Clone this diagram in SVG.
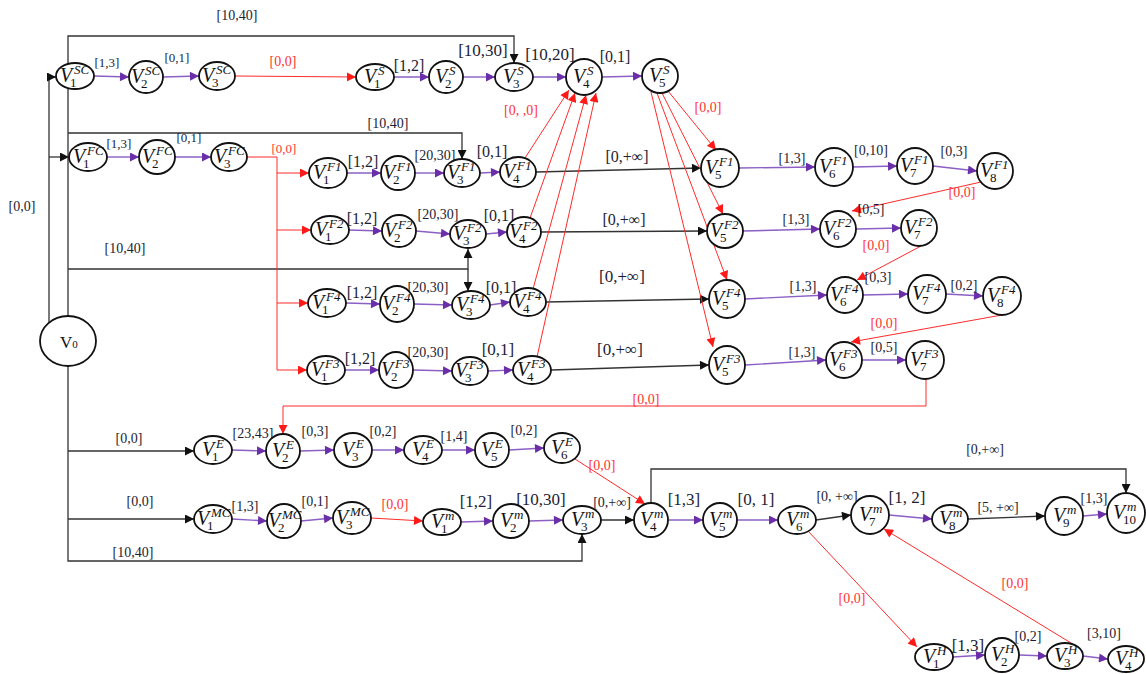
<svg xmlns="http://www.w3.org/2000/svg" width="1146" height="674" viewBox="0 0 1146 674">
<style>
.nd{fill:#fff;stroke:#111;stroke-width:1.8}
.nl{font-family:"Liberation Serif",serif;font-size:20px;font-style:italic;fill:#111}
.sp{font-size:13px}
.sb{font-size:13px;font-style:normal}
.lk{stroke:#333;stroke-width:1.3;fill:none}
.lp{stroke:#8b5fc4;stroke-width:1.4;fill:none}
.lr{stroke:#ff2b2b;stroke-width:1;fill:none}
.t{font-family:"Liberation Serif",serif;fill:#1d1d33;text-anchor:middle;font-size:14px}
.b{font-size:17px}
.r{fill:#ff3333}
</style>
<defs>
<marker id="mk" markerUnits="userSpaceOnUse" viewBox="0 0 10 10" refX="10" refY="5" markerWidth="10" markerHeight="9" orient="auto"><path d="M0,0L10,5L0,10z" fill="#111"/></marker>
<marker id="mp" markerUnits="userSpaceOnUse" viewBox="0 0 10 10" refX="10" refY="5" markerWidth="10" markerHeight="9" orient="auto"><path d="M0,0L10,5L0,10z" fill="#6a2fa8"/></marker>
<marker id="mr" markerUnits="userSpaceOnUse" viewBox="0 0 10 10" refX="10" refY="5" markerWidth="10" markerHeight="9" orient="auto"><path d="M0,0L10,5L0,10z" fill="#ff1a1a"/></marker>
</defs>
<rect width="1146" height="674" fill="#fff"/>
<g id="connectors">
<g marker-end="url(#mk)" class="lk">
<path d="M49,323V77H56"/>
<path d="M49,157H69"/>
<path d="M68,316V36H514V63"/>
<path d="M68,133H462V159"/>
<path d="M68,269H468V249"/>
<path d="M468,269V291"/>
<path d="M68,366V561H582V534"/>
<path d="M68,451H194"/>
<path d="M68,519H194"/>
<path d="M536,172L701,168"/>
<path d="M541,232L707,231"/>
<path d="M546,302L709,299"/>
<path d="M551,370L709,365"/>
<path d="M601,520H634"/>
<path d="M816,520L851,515"/>
<path d="M968,519L1045,516"/>
<path d="M651,503V469H1126V493"/>
</g>
<g marker-end="url(#mp)" class="lp">
<path d="M94,76L129,77"/>
<path d="M163,77L199,76"/>
<path d="M394,77L429,77"/>
<path d="M463,77L495,77"/>
<path d="M533,77L566,77"/>
<path d="M602,77L642,76"/>
<path d="M107,157L139,157"/>
<path d="M175,157L211,157"/>
<path d="M347,173L381,173"/>
<path d="M415,173L444,173"/>
<path d="M480,173L500,172"/>
<path d="M349,230L382,231"/>
<path d="M416,231L450,234"/>
<path d="M486,234L507,232"/>
<path d="M346,303L380,304"/>
<path d="M414,304L452,305"/>
<path d="M490,305L510,302"/>
<path d="M345,370L379,370"/>
<path d="M413,370L452,371"/>
<path d="M488,371L513,370"/>
<path d="M739,168L815,167"/>
<path d="M853,167L897,166"/>
<path d="M933,166L977,171"/>
<path d="M743,231L820,229"/>
<path d="M856,229L901,228"/>
<path d="M745,299L827,295"/>
<path d="M863,295L908,294"/>
<path d="M946,294L983,296"/>
<path d="M745,365L826,360"/>
<path d="M862,360L906,360"/>
<path d="M232,450L266,451"/>
<path d="M300,451L334,450"/>
<path d="M372,450L404,450"/>
<path d="M442,450L475,450"/>
<path d="M509,450L544,448"/>
<path d="M232,519L267,521"/>
<path d="M301,521L333,518"/>
<path d="M461,522L493,521"/>
<path d="M529,521L563,520"/>
<path d="M668,520L703,520"/>
<path d="M737,520L778,520"/>
<path d="M889,515L932,519"/>
<path d="M1083,516L1107,514"/>
<path d="M953,657L985,655"/>
<path d="M1019,655L1047,656"/>
<path d="M1083,656L1108,659"/>
</g>
<g marker-end="url(#mr)" class="lr">
<path d="M235,76L356,77"/>
<path d="M247,157H277V370H307"/>
<path d="M277,173H309"/>
<path d="M277,230H311"/>
<path d="M277,303H308"/>
<path d="M525,158L569,90"/>
<path d="M530,218L575,93"/>
<path d="M533,289L586,95"/>
<path d="M537,357L596,93"/>
<path d="M668,91L716,150"/>
<path d="M662,93L723,214"/>
<path d="M657,93L727,280"/>
<path d="M651,92L713,347"/>
<path d="M981,182L852,211"/>
<path d="M921,246L857,280"/>
<path d="M1002,315L851,342"/>
<path d="M926,379V406H283V434"/>
<path d="M575,459L645,504"/>
<path d="M371,518L423,521"/>
<path d="M808,531L917,647"/>
<path d="M1071,643L884,529"/>
</g>
</g>
<g id="labels">
<text class="t" x="237" y="20">[10,40]</text>
<text class="t" x="107" y="67" style="font-size:13px">[1,3]</text>
<text class="t" x="177" y="62" style="font-size:13px">[0,1]</text>
<text class="t r" x="283" y="66">[0,0]</text>
<text class="t" x="409" y="71" style="font-size:16px">[1,2]</text>
<text class="t b" x="483" y="56">[10,30]</text>
<text class="t b" x="550" y="60">[10,20]</text>
<text class="t" x="615" y="62" style="font-size:16px">[0,1]</text>
<text class="t r" x="521" y="115">[0, ,0]</text>
<text class="t r" x="708" y="112">[0,0]</text>
<text class="t" x="119" y="148" style="font-size:13px">[1,3]</text>
<text class="t" x="189" y="142" style="font-size:13px">[0,1]</text>
<text class="t r" x="284" y="153" style="font-size:13px">[0,0]</text>
<text class="t" x="388" y="128">[10,40]</text>
<text class="t" x="363" y="167" style="font-size:16px">[1,2]</text>
<text class="t" x="435" y="160">[20,30]</text>
<text class="t" x="492" y="157" style="font-size:16px">[0,1]</text>
<text class="t" x="627" y="162" style="font-size:16px">[0,+∞]</text>
<text class="t" x="792" y="163">[1,3]</text>
<text class="t" x="871" y="155">[0,10]</text>
<text class="t" x="954" y="156">[0,3]</text>
<text class="t r" x="962" y="197">[0,0]</text>
<text class="t" x="871" y="214">[0,5]</text>
<text class="t" x="362" y="224" style="font-size:16px">[1,2]</text>
<text class="t" x="438" y="219">[20,30]</text>
<text class="t" x="499" y="221" style="font-size:16px">[0,1]</text>
<text class="t" x="624" y="225" style="font-size:16px">[0,+∞]</text>
<text class="t" x="796" y="224">[1,3]</text>
<text class="t r" x="876" y="250">[0,0]</text>
<text class="t" x="362" y="298" style="font-size:16px">[1,2]</text>
<text class="t" x="428" y="292">[20,30]</text>
<text class="t" x="501" y="293" style="font-size:16px">[0,1]</text>
<text class="t b" x="622" y="282">[0,+∞]</text>
<text class="t" x="803" y="291">[1,3]</text>
<text class="t" x="878" y="282">[0,3]</text>
<text class="t" x="964" y="290">[0,2]</text>
<text class="t r" x="884" y="328">[0,0]</text>
<text class="t" x="884" y="352">[0,5]</text>
<text class="t" x="360" y="364" style="font-size:16px">[1,2]</text>
<text class="t" x="428" y="357">[20,30]</text>
<text class="t b" x="498" y="355">[0,1]</text>
<text class="t b" x="620" y="355">[0,+∞]</text>
<text class="t" x="802" y="357">[1,3]</text>
<text class="t r" x="646" y="404">[0,0]</text>
<text class="t" x="22" y="211">[0,0]</text>
<text class="t" x="125" y="253">[10,40]</text>
<text class="t" x="129" y="443">[0,0]</text>
<text class="t" x="253" y="438">[23,43]</text>
<text class="t" x="315" y="436">[0,3]</text>
<text class="t" x="383" y="436">[0,2]</text>
<text class="t" x="454" y="441">[1,4]</text>
<text class="t" x="524" y="435">[0,2]</text>
<text class="t r" x="602" y="470">[0,0]</text>
<text class="t" x="140" y="506">[0,0]</text>
<text class="t" x="245" y="511">[1,3]</text>
<text class="t" x="133" y="557">[10,40]</text>
<text class="t" x="315" y="506">[0,1]</text>
<text class="t r" x="395" y="509">[0,0]</text>
<text class="t b" x="476" y="507">[1,2]</text>
<text class="t b" x="541" y="505">[10,30]</text>
<text class="t" x="612" y="507">[0,+∞]</text>
<text class="t b" x="684" y="505">[1,3]</text>
<text class="t b" x="756" y="505">[0, 1]</text>
<text class="t" x="837" y="501">[0, +∞]</text>
<text class="t" x="985" y="454">[0,+∞]</text>
<text class="t b" x="907" y="503">[1, 2]</text>
<text class="t" x="998" y="512">[5, +∞]</text>
<text class="t" x="1094" y="503">[1,3]</text>
<text class="t r" x="852" y="603">[0,0]</text>
<text class="t r" x="1015" y="588">[0,0]</text>
<text class="t b" x="968" y="651">[1,3]</text>
<text class="t" x="1028" y="641">[0,2]</text>
<text class="t" x="1104" y="638">[3,10]</text>
</g>
<g id="V0"><ellipse class="nd" cx="68" cy="341" rx="28" ry="25"/><text x="60" y="348" style="font-family:'Liberation Serif',serif;font-size:17px;fill:#111">V<tspan style="font-size:11px">0</tspan></text></g>
<g id="SC1"><ellipse class="nd" cx="75" cy="76" rx="19" ry="13"/><text class="nl"><tspan x="60" y="82">V</tspan><tspan class="sp" x="74" y="74">SC</tspan><tspan class="sb" x="70" y="87">1</tspan></text></g>
<g id="SC2"><ellipse class="nd" cx="146" cy="77" rx="17" ry="16"/><text class="nl"><tspan x="131" y="83">V</tspan><tspan class="sp" x="145" y="75">SC</tspan><tspan class="sb" x="141" y="88">2</tspan></text></g>
<g id="SC3"><ellipse class="nd" cx="217" cy="76" rx="18" ry="14"/><text class="nl"><tspan x="202" y="82">V</tspan><tspan class="sp" x="216" y="74">SC</tspan><tspan class="sb" x="212" y="87">3</tspan></text></g>
<g id="S1"><ellipse class="nd" cx="375" cy="77" rx="19" ry="13"/><text class="nl"><tspan x="364" y="83">V</tspan><tspan class="sp" x="378" y="75">S</tspan><tspan class="sb" x="374" y="88">1</tspan></text></g>
<g id="S2"><ellipse class="nd" cx="446" cy="77" rx="17" ry="16"/><text class="nl"><tspan x="435" y="83">V</tspan><tspan class="sp" x="449" y="75">S</tspan><tspan class="sb" x="445" y="88">2</tspan></text></g>
<g id="S3"><ellipse class="nd" cx="514" cy="77" rx="19" ry="14"/><text class="nl"><tspan x="503" y="83">V</tspan><tspan class="sp" x="517" y="75">S</tspan><tspan class="sb" x="513" y="88">3</tspan></text></g>
<g id="S4"><ellipse class="nd" cx="584" cy="77" rx="18" ry="18"/><text class="nl"><tspan x="573" y="83">V</tspan><tspan class="sp" x="587" y="75">S</tspan><tspan class="sb" x="583" y="88">4</tspan></text></g>
<g id="S5"><ellipse class="nd" cx="660" cy="76" rx="18" ry="17"/><text class="nl"><tspan x="649" y="82">V</tspan><tspan class="sp" x="663" y="74">S</tspan><tspan class="sb" x="659" y="87">5</tspan></text></g>
<g id="FC1"><ellipse class="nd" cx="88" cy="157" rx="19" ry="14"/><text class="nl"><tspan x="73" y="163">V</tspan><tspan class="sp" x="87" y="155">FC</tspan><tspan class="sb" x="83" y="168">1</tspan></text></g>
<g id="FC2"><ellipse class="nd" cx="157" cy="157" rx="18" ry="17"/><text class="nl"><tspan x="142" y="163">V</tspan><tspan class="sp" x="156" y="155">FC</tspan><tspan class="sb" x="152" y="168">2</tspan></text></g>
<g id="FC3"><ellipse class="nd" cx="229" cy="157" rx="18" ry="14"/><text class="nl"><tspan x="214" y="163">V</tspan><tspan class="sp" x="228" y="155">FC</tspan><tspan class="sb" x="224" y="168">3</tspan></text></g>
<g id="F1-1"><ellipse class="nd" cx="328" cy="173" rx="19" ry="15"/><text class="nl"><tspan x="313" y="179">V</tspan><tspan class="sp" x="327" y="171">F1</tspan><tspan class="sb" x="323" y="184">1</tspan></text></g>
<g id="F1-2"><ellipse class="nd" cx="398" cy="173" rx="17" ry="17"/><text class="nl"><tspan x="383" y="179">V</tspan><tspan class="sp" x="397" y="171">F1</tspan><tspan class="sb" x="393" y="184">2</tspan></text></g>
<g id="F1-3"><ellipse class="nd" cx="462" cy="173" rx="18" ry="14"/><text class="nl"><tspan x="447" y="179">V</tspan><tspan class="sp" x="461" y="171">F1</tspan><tspan class="sb" x="457" y="184">3</tspan></text></g>
<g id="F1-4"><ellipse class="nd" cx="518" cy="172" rx="18" ry="15"/><text class="nl"><tspan x="503" y="178">V</tspan><tspan class="sp" x="517" y="170">F1</tspan><tspan class="sb" x="513" y="183">4</tspan></text></g>
<g id="F1-5"><ellipse class="nd" cx="720" cy="168" rx="19" ry="19"/><text class="nl"><tspan x="705" y="174">V</tspan><tspan class="sp" x="719" y="166">F1</tspan><tspan class="sb" x="715" y="179">5</tspan></text></g>
<g id="F1-6"><ellipse class="nd" cx="834" cy="167" rx="19" ry="19"/><text class="nl"><tspan x="819" y="173">V</tspan><tspan class="sp" x="833" y="165">F1</tspan><tspan class="sb" x="829" y="178">6</tspan></text></g>
<g id="F1-7"><ellipse class="nd" cx="915" cy="166" rx="18" ry="18"/><text class="nl"><tspan x="900" y="172">V</tspan><tspan class="sp" x="914" y="164">F1</tspan><tspan class="sb" x="910" y="177">7</tspan></text></g>
<g id="F1-8"><ellipse class="nd" cx="995" cy="171" rx="18" ry="18"/><text class="nl"><tspan x="980" y="177">V</tspan><tspan class="sp" x="994" y="169">F1</tspan><tspan class="sb" x="990" y="182">8</tspan></text></g>
<g id="F2-1"><ellipse class="nd" cx="330" cy="230" rx="19" ry="14"/><text class="nl"><tspan x="315" y="236">V</tspan><tspan class="sp" x="329" y="228">F2</tspan><tspan class="sb" x="325" y="241">1</tspan></text></g>
<g id="F2-2"><ellipse class="nd" cx="399" cy="231" rx="17" ry="16"/><text class="nl"><tspan x="384" y="237">V</tspan><tspan class="sp" x="398" y="229">F2</tspan><tspan class="sb" x="394" y="242">2</tspan></text></g>
<g id="F2-3"><ellipse class="nd" cx="468" cy="234" rx="18" ry="14"/><text class="nl"><tspan x="453" y="240">V</tspan><tspan class="sp" x="467" y="232">F2</tspan><tspan class="sb" x="463" y="245">3</tspan></text></g>
<g id="F2-4"><ellipse class="nd" cx="524" cy="232" rx="17" ry="15"/><text class="nl"><tspan x="509" y="238">V</tspan><tspan class="sp" x="523" y="230">F2</tspan><tspan class="sb" x="519" y="243">4</tspan></text></g>
<g id="F2-5"><ellipse class="nd" cx="725" cy="231" rx="18" ry="17"/><text class="nl"><tspan x="710" y="237">V</tspan><tspan class="sp" x="724" y="229">F2</tspan><tspan class="sb" x="720" y="242">5</tspan></text></g>
<g id="F2-6"><ellipse class="nd" cx="838" cy="229" rx="18" ry="18"/><text class="nl"><tspan x="823" y="235">V</tspan><tspan class="sp" x="837" y="227">F2</tspan><tspan class="sb" x="833" y="240">6</tspan></text></g>
<g id="F2-7"><ellipse class="nd" cx="919" cy="228" rx="18" ry="18"/><text class="nl"><tspan x="904" y="234">V</tspan><tspan class="sp" x="918" y="226">F2</tspan><tspan class="sb" x="914" y="239">7</tspan></text></g>
<g id="F4-1"><ellipse class="nd" cx="327" cy="303" rx="19" ry="14"/><text class="nl"><tspan x="312" y="309">V</tspan><tspan class="sp" x="326" y="301">F4</tspan><tspan class="sb" x="322" y="314">1</tspan></text></g>
<g id="F4-2"><ellipse class="nd" cx="397" cy="304" rx="17" ry="18"/><text class="nl"><tspan x="382" y="310">V</tspan><tspan class="sp" x="396" y="302">F4</tspan><tspan class="sb" x="392" y="315">2</tspan></text></g>
<g id="F4-3"><ellipse class="nd" cx="471" cy="305" rx="19" ry="14"/><text class="nl"><tspan x="456" y="311">V</tspan><tspan class="sp" x="470" y="303">F4</tspan><tspan class="sb" x="466" y="316">3</tspan></text></g>
<g id="F4-4"><ellipse class="nd" cx="528" cy="302" rx="18" ry="14"/><text class="nl"><tspan x="513" y="308">V</tspan><tspan class="sp" x="527" y="300">F4</tspan><tspan class="sb" x="523" y="313">4</tspan></text></g>
<g id="F4-5"><ellipse class="nd" cx="727" cy="299" rx="18" ry="19"/><text class="nl"><tspan x="712" y="305">V</tspan><tspan class="sp" x="726" y="297">F4</tspan><tspan class="sb" x="722" y="310">5</tspan></text></g>
<g id="F4-6"><ellipse class="nd" cx="845" cy="295" rx="18" ry="18"/><text class="nl"><tspan x="830" y="301">V</tspan><tspan class="sp" x="844" y="293">F4</tspan><tspan class="sb" x="840" y="306">6</tspan></text></g>
<g id="F4-7"><ellipse class="nd" cx="927" cy="294" rx="19" ry="19"/><text class="nl"><tspan x="912" y="300">V</tspan><tspan class="sp" x="926" y="292">F4</tspan><tspan class="sb" x="922" y="305">7</tspan></text></g>
<g id="F4-8"><ellipse class="nd" cx="1002" cy="296" rx="19" ry="19"/><text class="nl"><tspan x="987" y="302">V</tspan><tspan class="sp" x="1001" y="294">F4</tspan><tspan class="sb" x="997" y="307">8</tspan></text></g>
<g id="F3-1"><ellipse class="nd" cx="326" cy="370" rx="19" ry="14"/><text class="nl"><tspan x="311" y="376">V</tspan><tspan class="sp" x="325" y="368">F3</tspan><tspan class="sb" x="321" y="381">1</tspan></text></g>
<g id="F3-2"><ellipse class="nd" cx="396" cy="370" rx="17" ry="18"/><text class="nl"><tspan x="381" y="376">V</tspan><tspan class="sp" x="395" y="368">F3</tspan><tspan class="sb" x="391" y="381">2</tspan></text></g>
<g id="F3-3"><ellipse class="nd" cx="470" cy="371" rx="18" ry="14"/><text class="nl"><tspan x="455" y="377">V</tspan><tspan class="sp" x="469" y="369">F3</tspan><tspan class="sb" x="465" y="382">3</tspan></text></g>
<g id="F3-4"><ellipse class="nd" cx="532" cy="370" rx="19" ry="14"/><text class="nl"><tspan x="517" y="376">V</tspan><tspan class="sp" x="531" y="368">F3</tspan><tspan class="sb" x="527" y="381">4</tspan></text></g>
<g id="F3-5"><ellipse class="nd" cx="727" cy="365" rx="18" ry="19"/><text class="nl"><tspan x="712" y="371">V</tspan><tspan class="sp" x="726" y="363">F3</tspan><tspan class="sb" x="722" y="376">5</tspan></text></g>
<g id="F3-6"><ellipse class="nd" cx="844" cy="360" rx="18" ry="18"/><text class="nl"><tspan x="829" y="366">V</tspan><tspan class="sp" x="843" y="358">F3</tspan><tspan class="sb" x="839" y="371">6</tspan></text></g>
<g id="F3-7"><ellipse class="nd" cx="925" cy="360" rx="19" ry="19"/><text class="nl"><tspan x="910" y="366">V</tspan><tspan class="sp" x="924" y="358">F3</tspan><tspan class="sb" x="920" y="371">7</tspan></text></g>
<g id="E1"><ellipse class="nd" cx="213" cy="450" rx="19" ry="14"/><text class="nl"><tspan x="202" y="456">V</tspan><tspan class="sp" x="216" y="448">E</tspan><tspan class="sb" x="212" y="461">1</tspan></text></g>
<g id="E2"><ellipse class="nd" cx="283" cy="451" rx="17" ry="17"/><text class="nl"><tspan x="272" y="457">V</tspan><tspan class="sp" x="286" y="449">E</tspan><tspan class="sb" x="282" y="462">2</tspan></text></g>
<g id="E3"><ellipse class="nd" cx="353" cy="450" rx="19" ry="17"/><text class="nl"><tspan x="342" y="456">V</tspan><tspan class="sp" x="356" y="448">E</tspan><tspan class="sb" x="352" y="461">3</tspan></text></g>
<g id="E4"><ellipse class="nd" cx="423" cy="450" rx="19" ry="14"/><text class="nl"><tspan x="412" y="456">V</tspan><tspan class="sp" x="426" y="448">E</tspan><tspan class="sb" x="422" y="461">4</tspan></text></g>
<g id="E5"><ellipse class="nd" cx="492" cy="450" rx="17" ry="17"/><text class="nl"><tspan x="481" y="456">V</tspan><tspan class="sp" x="495" y="448">E</tspan><tspan class="sb" x="491" y="461">5</tspan></text></g>
<g id="E6"><ellipse class="nd" cx="562" cy="448" rx="18" ry="15"/><text class="nl"><tspan x="551" y="454">V</tspan><tspan class="sp" x="565" y="446">E</tspan><tspan class="sb" x="561" y="459">6</tspan></text></g>
<g id="MC1"><ellipse class="nd" cx="213" cy="519" rx="19" ry="14"/><text class="nl"><tspan x="197" y="525">V</tspan><tspan class="sp" x="211" y="517">MC</tspan><tspan class="sb" x="207" y="530">1</tspan></text></g>
<g id="MC2"><ellipse class="nd" cx="284" cy="521" rx="17" ry="17"/><text class="nl"><tspan x="268" y="527">V</tspan><tspan class="sp" x="282" y="519">MC</tspan><tspan class="sb" x="278" y="532">2</tspan></text></g>
<g id="MC3"><ellipse class="nd" cx="352" cy="518" rx="19" ry="16"/><text class="nl"><tspan x="336" y="524">V</tspan><tspan class="sp" x="350" y="516">MC</tspan><tspan class="sb" x="346" y="529">3</tspan></text></g>
<g id="m1"><ellipse class="nd" cx="442" cy="522" rx="19" ry="13"/><text class="nl"><tspan x="431" y="528">V</tspan><tspan class="sp" x="445" y="520">m</tspan><tspan class="sb" x="441" y="533">1</tspan></text></g>
<g id="m2"><ellipse class="nd" cx="511" cy="521" rx="18" ry="17"/><text class="nl"><tspan x="500" y="527">V</tspan><tspan class="sp" x="514" y="519">m</tspan><tspan class="sb" x="510" y="532">2</tspan></text></g>
<g id="m3"><ellipse class="nd" cx="582" cy="520" rx="19" ry="14"/><text class="nl"><tspan x="571" y="526">V</tspan><tspan class="sp" x="585" y="518">m</tspan><tspan class="sb" x="581" y="531">3</tspan></text></g>
<g id="m4"><ellipse class="nd" cx="651" cy="520" rx="17" ry="17"/><text class="nl"><tspan x="640" y="526">V</tspan><tspan class="sp" x="654" y="518">m</tspan><tspan class="sb" x="650" y="531">4</tspan></text></g>
<g id="m5"><ellipse class="nd" cx="720" cy="520" rx="17" ry="17"/><text class="nl"><tspan x="709" y="526">V</tspan><tspan class="sp" x="723" y="518">m</tspan><tspan class="sb" x="719" y="531">5</tspan></text></g>
<g id="m6"><ellipse class="nd" cx="797" cy="520" rx="19" ry="14"/><text class="nl"><tspan x="786" y="526">V</tspan><tspan class="sp" x="800" y="518">m</tspan><tspan class="sb" x="796" y="531">6</tspan></text></g>
<g id="m7"><ellipse class="nd" cx="870" cy="515" rx="19" ry="19"/><text class="nl"><tspan x="859" y="521">V</tspan><tspan class="sp" x="873" y="513">m</tspan><tspan class="sb" x="869" y="526">7</tspan></text></g>
<g id="m8"><ellipse class="nd" cx="950" cy="519" rx="18" ry="14"/><text class="nl"><tspan x="939" y="525">V</tspan><tspan class="sp" x="953" y="517">m</tspan><tspan class="sb" x="949" y="530">8</tspan></text></g>
<g id="m9"><ellipse class="nd" cx="1064" cy="516" rx="19" ry="19"/><text class="nl"><tspan x="1053" y="522">V</tspan><tspan class="sp" x="1067" y="514">m</tspan><tspan class="sb" x="1063" y="527">9</tspan></text></g>
<g id="m10"><ellipse class="nd" cx="1126" cy="513" rx="19" ry="20"/><text class="nl"><tspan x="1113" y="519">V</tspan><tspan class="sp" x="1127" y="511">m</tspan><tspan class="sb" x="1123" y="524">10</tspan></text></g>
<g id="H1"><ellipse class="nd" cx="934" cy="657" rx="19" ry="13"/><text class="nl"><tspan x="923" y="663">V</tspan><tspan class="sp" x="937" y="655">H</tspan><tspan class="sb" x="933" y="668">1</tspan></text></g>
<g id="H2"><ellipse class="nd" cx="1002" cy="655" rx="17" ry="17"/><text class="nl"><tspan x="991" y="661">V</tspan><tspan class="sp" x="1005" y="653">H</tspan><tspan class="sb" x="1001" y="666">2</tspan></text></g>
<g id="H3"><ellipse class="nd" cx="1065" cy="656" rx="18" ry="13"/><text class="nl"><tspan x="1054" y="662">V</tspan><tspan class="sp" x="1068" y="654">H</tspan><tspan class="sb" x="1064" y="667">3</tspan></text></g>
<g id="H4"><ellipse class="nd" cx="1126" cy="659" rx="18" ry="13"/><text class="nl"><tspan x="1115" y="665">V</tspan><tspan class="sp" x="1129" y="657">H</tspan><tspan class="sb" x="1125" y="670">4</tspan></text></g>
</svg>
